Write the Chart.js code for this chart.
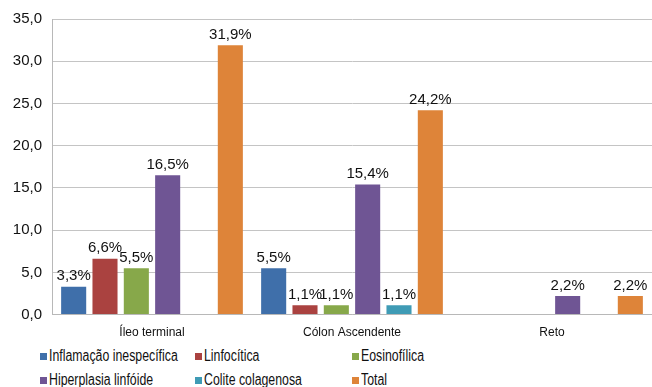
<!DOCTYPE html>
<html>
<head>
<meta charset="utf-8">
<script src="https://cdn.jsdelivr.net/npm/chart.js@4"></script>
<style>
  html, body { margin: 0; padding: 0; background: #fff; }
  #wrap { position: relative; width: 652px; height: 387px; }
  #chartBox { position: absolute; left: 0; top: 0; width: 652px; height: 343px; }
  #legend {
    position: absolute; left: 0; top: 347px; width: 652px;
    font-family: "Liberation Sans", Arial, sans-serif;
    font-size: 16px; color: #111;
  }
  .item { position: absolute; display: flex; align-items: center; white-space: nowrap; }
  .sw { width: 7px; height: 7px; margin-right: 2px; }
  .txt { display: inline-block; transform: scaleX(0.77); transform-origin: left center; }
</style>
</head>
<body>
<div id="wrap">
  <div id="chartBox"><canvas id="c"></canvas></div>
  <div id="legend"></div>
</div>
<script>
  // categorias e séries
  const categories = ['Íleo terminal', 'Cólon Ascendente', 'Reto'];
  const seriesNames = ['Inflamação inespecífica', 'Linfocítica', 'Eosinofílica',
    'Hiperplasia linfóide', 'Colite colagenosa', 'Total'];
  const inflamacao = [3.3, 5.5, 0];
  const linfocitica = [6.6, 1.1, 0];
  const eosinofilica = [5.5, 1.1, 0];
  const hiperplasia = [16.5, 15.4, 2.2];
  const colagenosa = [0, 1.1, 0];
  const total = [31.9, 24.2, 2.2];
  const yTicks = [0, 5, 10, 15, 20, 25, 30, 35];

  const seriesValues = [inflamacao, linfocitica, eosinofilica, hiperplasia, colagenosa, total];
  const colors = ['#3f6faa', '#aa4240', '#87a84a', '#6f5594', '#3f9bb5', '#de8439'];

  const fmt = v => v.toFixed(1).replace('.', ',');

  // rótulos de valor acima das barras
  const valueLabels = {
    id: 'valueLabels',
    afterDatasetsDraw(chart) {
      const ctx = chart.ctx;
      ctx.save();
      ctx.font = '15px "Liberation Sans", Arial, sans-serif';
      ctx.fillStyle = '#111';
      ctx.textAlign = 'center';
      ctx.textBaseline = 'bottom';
      chart.data.datasets.forEach((ds, i) => {
        chart.getDatasetMeta(i).data.forEach((bar, j) => {
          const v = ds.data[j];
          if (!v) return;
          ctx.fillText(fmt(v) + '%', bar.x, bar.y - 3);
        });
      });
      ctx.restore();
    }
  };

  new Chart(document.getElementById('c'), {
    type: 'bar',
    data: {
      labels: categories,
      datasets: seriesNames.map((name, i) => ({
        label: name,
        data: seriesValues[i],
        backgroundColor: colors[i],
        borderWidth: 0,
        categoryPercentage: 0.94,
        barPercentage: 0.8
      }))
    },
    options: {
      responsive: true,
      maintainAspectRatio: false,
      animation: false,
      layout: { padding: { top: 15, right: 0, left: 0, bottom: 0 } },
      plugins: { legend: { display: false }, tooltip: { enabled: false } },
      scales: {
        x: {
          grid: { display: false },
          border: { color: '#b8b8b8', width: 1 },
          ticks: { color: '#111', font: { family: '"Liberation Sans", Arial, sans-serif', size: 12 }, padding: 3 }
        },
        y: {
          min: 0,
          max: 35,
          afterBuildTicks: axis => { axis.ticks = yTicks.map(v => ({ value: v })); },
          afterFit: axis => { axis.width = 52; },
          grid: { color: '#c4c4c4', drawTicks: false },
          border: { color: '#b8b8b8' },
          ticks: {
            color: '#111',
            padding: 10,
            font: { family: '"Liberation Sans", Arial, sans-serif', size: 15 },
            callback: v => fmt(v)
          }
        }
      }
    },
    plugins: [valueLabels]
  });

  // legenda em grade (3 colunas x 2 linhas)
  const legend = document.getElementById('legend');
  const colX = [40, 195, 352];
  seriesNames.forEach((name, i) => {
    const el = document.createElement('div');
    el.className = 'item';
    el.style.left = colX[i % 3] + 'px';
    el.style.top = (Math.floor(i / 3) * 24) + 'px';
    el.innerHTML = '<span class="sw" style="background:' + colors[i] + '"></span><span class="txt">' + name + '</span>';
    legend.appendChild(el);
  });
</script>
</body>
</html>
